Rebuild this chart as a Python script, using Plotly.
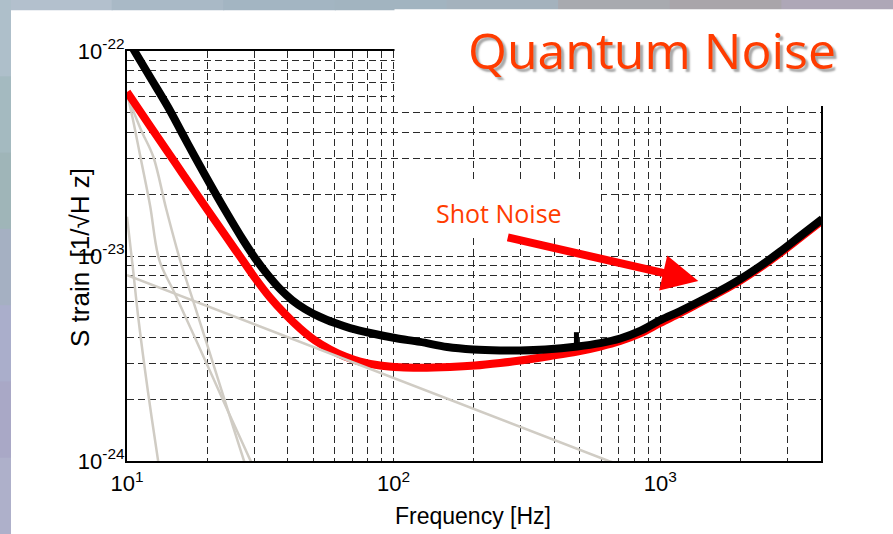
import plotly.graph_objects as go

# ---------------- data ----------------
# total noise (black)
freq_total = [10.35, 10.72, 12.20, 14.25, 16.08, 17.99, 20.49, 23.32, 27.25, 30.22, 33.52,
              37.51, 41.60, 46.55, 53.01, 60.33, 68.68, 81.63, 101.3, 125.7, 158.8, 198.8,
              250.9, 298.4, 370.3, 488.3, 595.6, 707.8, 841.4, 1000, 1188.5, 1412.8, 1679.5,
              1996.2, 2372.7, 2820.4, 3352.3, 4055]
strain_total = [1.07e-22, 9.89e-23, 7.47e-23, 5.33e-23, 3.98e-23, 3.04e-23, 2.245e-23,
                1.676e-23, 1.197e-23, 9.77e-24, 8.17e-24, 6.90e-24, 6.10e-24, 5.51e-24,
                5.04e-24, 4.71e-24, 4.45e-24, 4.21e-24, 3.98e-24, 3.81e-24, 3.60e-24, 3.50e-24,
                3.46e-24, 3.46e-24, 3.50e-24, 3.62e-24, 3.76e-24, 3.96e-24, 4.31e-24, 4.87e-24,
                5.39e-24, 6.03e-24, 6.79e-24, 7.72e-24, 8.94e-24, 1.052e-23, 1.252e-23, 1.515e-23]
# small violin-mode spike on the black curve
spike_freq = [485, 485]
spike_strain = [3.62e-24, 4.25e-24]

# quantum noise (red)
freq_quantum = [10.0, 12.20, 15.14, 18.79, 23.32, 26.55, 30.22, 34.40, 39.16, 44.59, 50.75,
                57.77, 65.77, 74.87, 88.97, 105.8, 125.7, 162.9, 202.2, 250.9, 298.4, 386.6,
                488.3, 595.6, 707.8, 841.4, 1000, 1188.5, 1412.8, 1679.5, 1996.2, 2372.7,
                2820.4, 3352.3, 4055]
strain_quantum = [6.31e-23, 4.31e-23, 2.858e-23, 1.897e-23, 1.265e-23, 9.94e-24, 7.81e-24,
                  6.27e-24, 5.21e-24, 4.43e-24, 3.87e-24, 3.50e-24, 3.235e-24, 3.056e-24,
                  2.922e-24, 2.864e-24, 2.851e-24, 2.874e-24, 2.922e-24, 3.006e-24, 3.091e-24,
                  3.252e-24, 3.42e-24, 3.618e-24, 3.85e-24, 4.19e-24, 4.71e-24, 5.27e-24,
                  5.93e-24, 6.67e-24, 7.59e-24, 8.79e-24, 1.034e-23, 1.231e-23, 1.49e-23]

# other noise sources (grey)
grey_a_freq = [10.0, 10.49, 11.03, 11.99, 13.10, 13.24]
grey_a_strain = [1.556e-23, 9.04e-24, 4.97e-24, 2.17e-24, 9.9e-25, 9.0e-25]
grey_b_freq = [10.11, 10.63, 11.29, 12.20, 13.22, 15.14, 18.79, 24.02, 29.20, 30.2]
grey_b_strain = [5.88e-23, 4.36e-23, 2.94e-23, 1.77e-23, 9.56e-24, 6.53e-24, 3.52e-24,
                 1.73e-24, 9.9e-25, 9.0e-25]
grey_c_freq = [10.11, 11.29, 12.55, 14.01, 15.81, 17.69, 20.49, 24.02, 27.55, 28.2]
grey_c_strain = [5.88e-23, 4.12e-23, 3.05e-23, 1.71e-23, 9.56e-24, 6.06e-24, 3.33e-24,
                 1.73e-24, 9.9e-25, 9.0e-25]
grey_d_freq = [10.0, 640, 700]
grey_d_strain = [8.07e-24, 1.0e-24, 9.65e-25]

# axis ticks
x_major = [10, 100, 1000]
x_major_text = ["10<sup>1</sup>", "10<sup>2</sup>", "10<sup>3</sup>"]
x_minor = [20, 30, 40, 50, 60, 70, 80, 90, 200, 300, 400, 500, 600, 700, 800, 900, 2000, 3000]
y_major = [1e-24, 1e-23, 1e-22]
y_major_text = ["10<sup>-24</sup>", "10<sup>-23</sup>", "10<sup>-22</sup>"]
y_minor = [2e-24, 3e-24, 4e-24, 5e-24, 6e-24, 7e-24, 8e-24, 9e-24,
           2e-23, 3e-23, 4e-23, 5e-23, 6e-23, 7e-23, 8e-23, 9e-23]

# ---------------- figure ----------------
W, H = 893, 534
L, R, T, B = 127, 72, 51, 73
PW, PH = W - L - R, H - T - B


def px(x):
    return (x - L) / PW


def py(y):
    return (H - B - y) / PH


GREY = "#d0ccc4"
fig = go.Figure()
for fx, sy in [(grey_a_freq, grey_a_strain), (grey_b_freq, grey_b_strain),
               (grey_c_freq, grey_c_strain)]:
    fig.add_trace(go.Scatter(x=fx, y=sy, mode="lines",
                             line=dict(color=GREY, width=2.5, shape="spline", smoothing=1.0),
                             hoverinfo="skip"))
fig.add_trace(go.Scatter(x=freq_quantum, y=strain_quantum, mode="lines",
                         line=dict(color="#ff0000", width=8, shape="spline", smoothing=1.0)))
fig.add_trace(go.Scatter(x=grey_d_freq, y=grey_d_strain, mode="lines",
                         line=dict(color=GREY, width=2.5), hoverinfo="skip"))
fig.add_trace(go.Scatter(x=freq_total, y=strain_total, mode="lines",
                         line=dict(color="#000000", width=8, shape="spline", smoothing=1.0)))
fig.add_trace(go.Scatter(x=spike_freq, y=spike_strain, mode="lines",
                         line=dict(color="#000000", width=5)))

TICKFONT = dict(family="Liberation Sans Narrow, Liberation Sans, Arial", size=22, color="black")
GRID = dict(gridcolor="#2a2a2a", griddash="7px,4px", gridwidth=1)

fig.update_xaxes(type="log", range=[1, 3.603], showgrid=True, **GRID,
                 tickmode="array", tickvals=x_major, ticktext=x_major_text, ticks="",
                 minor=dict(tickmode="array", tickvals=x_minor, showgrid=True, ticks="", **GRID),
                 showline=True, linecolor="black", linewidth=2, mirror=True,
                 zeroline=False, tickfont=TICKFONT, ticklabelstandoff=2)
fig.update_yaxes(type="log", range=[-24, -22], showgrid=True, **GRID,
                 tickmode="array", tickvals=y_major, ticktext=y_major_text, ticks="",
                 minor=dict(tickmode="array", tickvals=y_minor, showgrid=True, ticks="", **GRID),
                 showline=True, linecolor="black", linewidth=2, mirror=True,
                 zeroline=False, tickfont=TICKFONT, ticklabelstandoff=-4)

shapes = []
# slide background strips (left and top)
top_cols = ["#b3c0cd", "#a9b9c6", "#a3b5c2", "#a2b4c0", "#a4b2bd", "#a8aaaf", "#a9a5aa", "#aea7b7"]
seg = W / len(top_cols)
for i, c in enumerate(top_cols):
    shapes.append(dict(type="rect", xref="paper", yref="paper", layer="below",
                       x0=px(i * seg), x1=px((i + 1) * seg + 1), y0=py(0), y1=py(10.3),
                       fillcolor=c, line=dict(width=0)))
left_cols = ["#aebfca", "#a4bac0", "#9fb5b8", "#a5b0c2", "#aaaecb", "#a9a8c6", "#aeb0ca"]
seg = H / len(left_cols)
for i, c in enumerate(left_cols):
    shapes.append(dict(type="rect", xref="paper", yref="paper", layer="below",
                       x0=px(0), x1=px(11), y0=py(i * seg), y1=py((i + 1) * seg + 1),
                       fillcolor=c, line=dict(width=0)))
# white boxes behind the title and the label
shapes.append(dict(type="rect", xref="paper", yref="paper", layer="above",
                   x0=px(394.5), x1=px(W + 2), y0=py(9.3), y1=py(106),
                   fillcolor="white", line=dict(width=0)))
shapes.append(dict(type="rect", xref="paper", yref="paper", layer="above",
                   x0=px(396), x1=px(601), y0=py(183), y1=py(238),
                   fillcolor="white", line=dict(width=0)))

LABELFONT = "Liberation Sans Narrow, Liberation Sans, Arial"
annotations = [
    dict(text="Quantum Noise", xref="paper", yref="paper", x=px(652), y=py(50),
         xanchor="center", yanchor="middle", showarrow=False,
         font=dict(family="Open Sans", size=50, color="#ff3c00",
                   shadow="3px 3px 2px #a8a8a8")),
    dict(text="Shot Noise", xref="paper", yref="paper", x=px(499), y=py(213),
         xanchor="center", yanchor="middle", showarrow=False,
         font=dict(family="Open Sans", size=25, color="#ff3c00")),
    dict(text="", x=3.1427, y=-23.122, xref="x", yref="y", ax=-192, ay=-44,
         showarrow=True, arrowhead=2, arrowwidth=8, arrowsize=0.9, arrowcolor="#ff0000",
         standoff=0),
    dict(text="Frequency [Hz]", xref="paper", yref="paper", x=px(473), y=py(516),
         xanchor="center", yanchor="middle", showarrow=False,
         font=dict(family=LABELFONT, size=23, color="black")),
    dict(text="S train  [1/√H z]", xref="paper", yref="paper", x=px(80), y=py(258),
         xanchor="center", yanchor="middle", showarrow=False, textangle=-90,
         font=dict(family=LABELFONT, size=26, color="black")),
]

fig.update_layout(width=W, height=H, autosize=False,
                  margin=dict(l=L, r=R, t=T, b=B),
                  paper_bgcolor="white", plot_bgcolor="white",
                  showlegend=False, shapes=shapes, annotations=annotations)

fig.write_html("out.html")
